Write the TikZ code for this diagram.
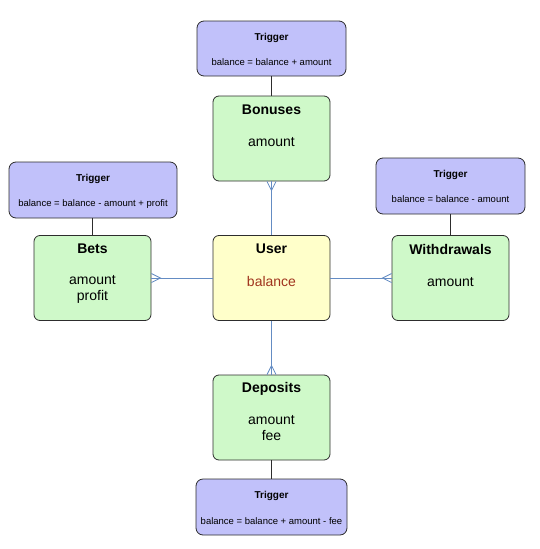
\documentclass[tikz,border=0pt]{standalone}
\usepackage{fontspec}
\setmainfont{Liberation Sans}
\usetikzlibrary{calc}
\definecolor{entgreen}{RGB}{207,249,201}
\definecolor{trigblue}{RGB}{193,193,250}
\definecolor{useryellow}{RGB}{255,255,202}
\definecolor{attrred}{RGB}{160,52,30}
\definecolor{linkblue}{RGB}{100,140,195}
\definecolor{edgegray}{RGB}{45,45,45}
\begin{document}
\begin{tikzpicture}[x=1pt,y=-1pt,
  entity/.style={draw=edgegray, fill=entgreen, rounded corners=6pt, minimum width=117pt, minimum height=85pt, line width=0.8pt, inner sep=0pt},
  userbox/.style={entity, fill=useryellow},
  trig/.style={draw=edgegray, fill=trigblue, rounded corners=7pt, minimum height=55pt, line width=0.8pt, inner sep=0pt},
  etitle/.style={font=\fontsize{14}{16}\selectfont\bfseries, inner sep=0pt},
  ebody/.style={font=\fontsize{14}{16}\selectfont, inner sep=0pt, align=center},
  ttitle/.style={font=\fontsize{10}{12}\selectfont\bfseries, inner sep=0pt},
  tbody/.style={font=\fontsize{9.5}{11}\selectfont, inner sep=0pt},
  link/.style={draw=linkblue, line width=0.8pt},
  tlink/.style={draw=edgegray, line width=0.8pt}
]
\useasboundingbox (0,0) rectangle (540,549);

% entities
\node[entity] (bonuses) at (271.5,138.5) {};
\node[userbox] (user) at (271.5,278) {};
\node[entity] (bets) at (92.5,278) {};
\node[entity] (withdrawals) at (450.5,278) {};
\node[entity] (deposits) at (271.5,417.5) {};

% triggers
\node[trig, minimum width=149pt] (ttop) at (271.5,48.5) {};
\node[trig, minimum width=168pt, minimum height=56pt] (tleft) at (93,190) {};
\node[trig, minimum width=149pt, minimum height=56pt] (tright) at (450.5,186) {};
\node[trig, minimum width=151pt, minimum height=56pt] (tbottom) at (271.5,507) {};

% entity texts
\node[etitle] (bonusesT) at ($(bonuses.north)+(0,14)$) {Bonuses};
\node[ebody] (bonusesA) at ($(bonuses.north)+(0,46.5)$) {amount};
\node[etitle] (userT) at ($(user.north)+(0,14)$) {User};
\node[ebody, text=attrred] (userA) at ($(user.north)+(0,46.5)$) {balance};
\node[etitle] (betsT) at ($(bets.north)+(0,14)$) {Bets};
\node[ebody, anchor=north] (betsA) at ($(bets.north)+(0,40.5)$) {amount\\profit};
\node[etitle] (withdrawalsT) at ($(withdrawals.north)+(0,14)$) {Withdrawals};
\node[ebody] (withdrawalsA) at ($(withdrawals.north)+(0,46.5)$) {amount};
\node[etitle] (depositsT) at ($(deposits.north)+(0,14)$) {Deposits};
\node[ebody, anchor=north] (depositsA) at ($(deposits.north)+(0,40.5)$) {amount\\fee};

% trigger texts
\node[ttitle] (ttopT) at ($(ttop.north)+(0,17.5)$) {Trigger};
\node[tbody] (ttopB) at ($(ttop.north)+(0,42)$) {balance = balance + amount};
\node[ttitle] (tleftT) at ($(tleft.north)+(0,17.5)$) {Trigger};
\node[tbody] (tleftB) at ($(tleft.north)+(0,42)$) {balance = balance - amount + profit};
\node[ttitle] (trightT) at ($(tright.north)+(0,17.5)$) {Trigger};
\node[tbody] (trightB) at ($(tright.north)+(0,42)$) {balance = balance - amount};
\node[ttitle] (tbottomT) at ($(tbottom.north)+(0,17.5)$) {Trigger};
\node[tbody] (tbottomB) at ($(tbottom.north)+(0,42)$) {balance = balance + amount - fee};

% trigger connectors
\draw[tlink] (ttop.south) -- (bonuses.north);
\draw[tlink] (tleft.south -| bets.north) -- (bets.north);
\draw[tlink] (tright.south) -- (withdrawals.north);
\draw[tlink] (deposits.south) -- (tbottom.north);

% relationship connectors with crow's feet
\draw[link] (user.north) -- (bonuses.south);
\draw[link] ($(bonuses.south)+(-4.5,0)$) -- ($(bonuses.south)+(0,9)$) -- ($(bonuses.south)+(4.5,0)$);

\draw[link] (user.south) -- (deposits.north);
\draw[link] ($(deposits.north)+(-4.5,0)$) -- ($(deposits.north)+(0,-9)$) -- ($(deposits.north)+(4.5,0)$);

\draw[link] (user.west) -- (bets.east);
\draw[link] ($(bets.east)+(0,-4.5)$) -- ($(bets.east)+(9,0)$) -- ($(bets.east)+(0,4.5)$);

\draw[link] (user.east) -- (withdrawals.west);
\draw[link] ($(withdrawals.west)+(0,-4.5)$) -- ($(withdrawals.west)+(-9,0)$) -- ($(withdrawals.west)+(0,4.5)$);
\end{tikzpicture}
\end{document}
